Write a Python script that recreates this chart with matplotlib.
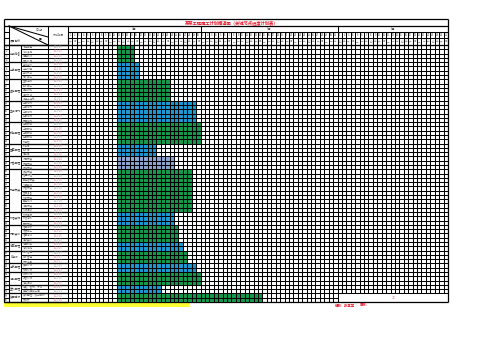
import matplotlib
matplotlib.use('Agg')
import matplotlib.pyplot as plt
import numpy as np

plt.rcParams['font.family'] = ['Noto Sans CJK SC', 'DejaVu Sans']

# ---- data ----
title = '某某工程施工计划横道图（关键节点进度计划表）'
month_labels = ['4月', '5月', '6月']
month_days = [30, 31, 25]
weekdays = ['六', '日', '一', '二', '三', '四', '五']

group_names = ['前期准备', '土方工程', '基础工程', '主体结构', '砌体工程', '屋面工程',
               '门窗工程', '机电安装', '外墙装饰', '内部装修', '地面工程', '给排水',
               '电气工程', '消防工程', '室外工程', '竣工验收']
items = [
    ['场地平整', '临时设施', '测量放线', '材料进场'],
    ['基坑开挖', '土方外运', '基坑支护', '降水施工'],
    ['垫层浇筑', '防水施工', '钢筋绑扎', '模板支设', '混凝土浇筑'],
    ['一层结构', '二层结构', '三层结构', '四层结构', '屋面结构'],
    ['一层砌体', '二层砌体', '三层砌体', '四层砌体', '构造柱'],
    ['找平层', '防水层', '保护层'],
    ['门框安装', '窗框安装', '玻璃安装'],
    ['桥架安装', '管道预埋', '配电箱安装', '线缆敷设', '风管安装',
     '空调设备', '水泵安装', '弱电布线', '灯具安装', '系统调试'],
    ['外墙保温', '外墙涂料', '幕墙安装'],
    ['墙面抹灰', '吊顶施工', '墙面涂饰', '细部装修'],
    ['地面找平', '地砖铺贴'],
    ['给水管道', '排水管道', '卫生洁具'],
    ['照明系统', '动力系统'],
    ['喷淋系统', '报警系统', '消防调试'],
    ['道路、管网、绿化', '等室外配套工程'],
    ['资料整理、竣工验收', '及移交'],
]
bar_start = [12] * 16
bar_end = [15, 16, 23, 29, 30, 20, 24, 28, 24, 25, 26, 27, 29, 30, 21, 44]
bar_kind = ['g', 'b', 'g', 'b', 'g', 'b', 'l', 'g', 'b', 'g', 'b', 'g', 'b', 'g', 'b', 'g']
kind_color = {'g': '#17994a', 'b': '#1d9ad6', 'l': '#8ea6d2'}

group_rows = [len(x) for x in items]
nrows = sum(group_rows)
ndays = sum(month_days)

W, H = 496, 351
X0, X1 = 68, 448          # gantt area in pixels
Y0, Y1 = 45, 302
cw = (X1 - X0) / ndays
rh = (Y1 - Y0) / nrows
lw = 0.75

fig = plt.figure(figsize=(W / 100, H / 100), dpi=100)
fig.patch.set_facecolor('white')

# background axes in pixel coordinates for the table frame
bg = fig.add_axes([0, 0, 1, 1])
bg.set_xlim(0, W)
bg.set_ylim(H, 0)
bg.axis('off')

# gantt axes: x = day index, y = row index
ax = fig.add_axes([X0 / W, 1 - Y1 / H, (X1 - X0) / W, (Y1 - Y0) / H])
ax.set_xlim(0, ndays)
ax.set_ylim(nrows, 0)
ax.axis('off')

row0 = np.concatenate([[0], np.cumsum(group_rows)[:-1]])
for r0, n, s, e, k in zip(row0, group_rows, bar_start, bar_end, bar_kind):
    ax.barh(r0 + n / 2, e - s + 1, left=s - 1, height=n, color=kind_color[k],
            linewidth=0, zorder=1)

# gantt grid (last two rows of the third month are a merged cell)
m3 = month_days[0] + month_days[1]
for c in range(ndays + 1):
    top = nrows if c <= m3 else nrows - 2
    ax.vlines(c, 0, top, color='black', lw=lw, zorder=2)
for r in range(nrows + 1):
    right = ndays if r != nrows - 1 else m3
    ax.hlines(r, 0, right, color='black', lw=lw, zorder=2)

# ---- table frame ----
k = 'black'
bg.hlines([19, 26, Y0], 4, X1, color=k, lw=0.9)
bg.hlines(Y1, 4, X1, color=k, lw=0.9)
bg.vlines([4, X1], 19, Y1, color=k, lw=0.9)
bg.vlines([9, 48, 68], 26, Y1, color=k, lw=lw)
bg.vlines(21, Y0, Y1, color=k, lw=lw)
bg.hlines([32, 38], 4, 9, color=k, lw=lw)
bg.hlines([32, 38], X0, X1, color=k, lw=lw)

# month / day header
day_x = X0 + np.arange(ndays + 1) * cw
bg.vlines(day_x, 32, Y0, color=k, lw=lw)
edges = np.concatenate([[0], np.cumsum(month_days)])
bg.vlines(X0 + edges * cw, 26, Y0, color=k, lw=lw)
for i, lab in enumerate(month_labels):
    xc = X0 + (edges[i] + edges[i + 1]) / 2 * cw
    bg.text(xc, 29.2, lab, fontsize=2.2, color='#444444', ha='center', va='center')
d = 0
for m, nd in enumerate(month_days):
    for j in range(nd):
        xc = X0 + (d + 0.5) * cw
        bg.text(xc, 35, str(j + 1), fontsize=1.8, color='#333333', ha='center', va='center')
        bg.text(xc, 41.5, weekdays[d % 7], fontsize=1.8, color='#888888', ha='center', va='center')
        d += 1

# title
bg.text(232, 22.5, title, fontsize=3.1, color='#e8192c', fontweight='bold',
        ha='center', va='center')

# top-left header with diagonals
bg.plot([9, 48], [26, 37], color=k, lw=lw)
bg.plot([9, 48], [26, 45], color=k, lw=lw)
bg.text(39, 30, '日 期', fontsize=2, color='#555555', ha='center', va='center')
bg.text(40, 38.5, '■', fontsize=2, color='#222222', ha='center', va='center')
bg.text(15, 41, '项目名称', fontsize=2, color='#333333', ha='center', va='center')
bg.text(58, 35, '计划时间', fontsize=2, color='#555555', ha='center', va='center')

# left columns
row_y = Y0 + np.arange(nrows + 1) * rh
bg.hlines(row_y, 4, 9, color=k, lw=lw)
bg.hlines(row_y, 21, 68, color=k, lw=lw)
grp_y = Y0 + np.concatenate([[0], np.cumsum(group_rows)]) * rh
bg.hlines(grp_y, 4, 68, color=k, lw=0.9)

n = 0
for g, (name, its, s, e) in enumerate(zip(group_names, items, bar_start, bar_end)):
    gy = (grp_y[g] + grp_y[g + 1]) / 2
    bg.text(15, gy, name, fontsize=2, color='#444444', ha='center', va='center')
    for it in its:
        yc = (row_y[n] + row_y[n + 1]) / 2
        bg.text(6.5, yc, str(n + 1), fontsize=1.8, color='#333333', ha='center', va='center')
        bg.text(23, yc, it, fontsize=1.8, color='#777777', ha='left', va='center')
        bg.text(58, yc, f'4.{s}-{e if e <= 30 else e - 30}', fontsize=1.8,
                color='#e07090' if n % 3 else '#999999', ha='center', va='center')
        n += 1

# footer
bg.add_patch(plt.Rectangle((4, 303), 186, 4, color='#ffff33', lw=0))
bg.text(335, 305.5, '编制：张某某', fontsize=2.4, color='#e8192c', fontweight='bold',
        ha='left', va='center')
bg.text(360, 305.5, '审核：', fontsize=2.4, color='#e8192c', fontweight='bold',
        ha='left', va='center')
bg.text(393, 297, '注', fontsize=1.8, color='#f08090', ha='center', va='center')

fig.savefig('out.png', dpi=100)
